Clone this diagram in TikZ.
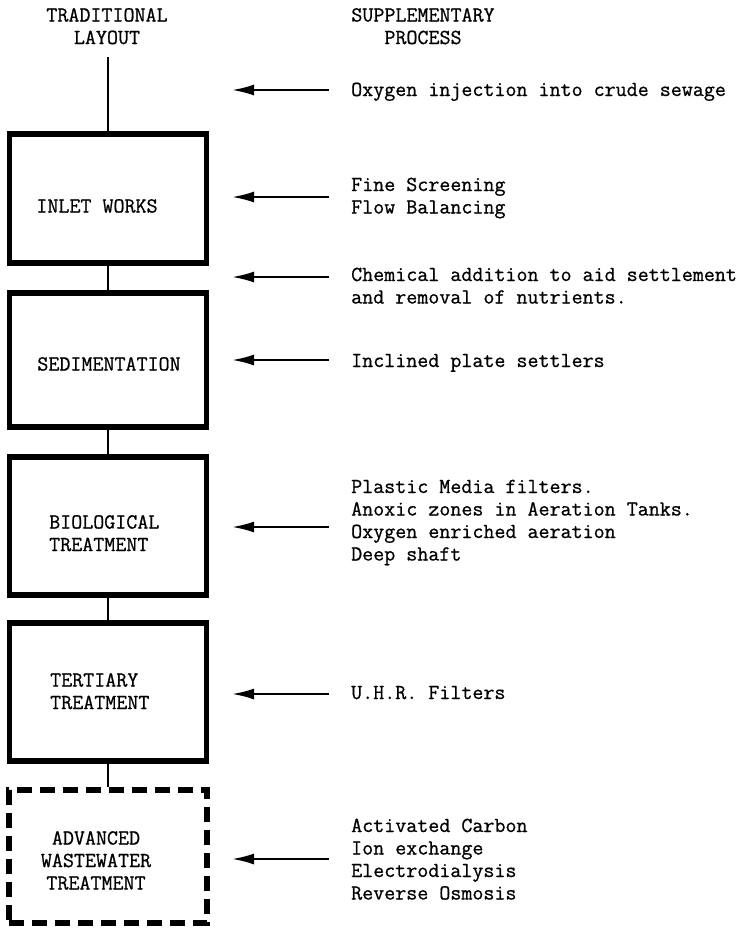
\documentclass[tikz,border=0pt]{standalone}
\usepackage{fontspec}
\newfontfamily\typew[FakeBold=0.8]{Latin Modern Mono}
\usetikzlibrary{arrows.meta}
\begin{document}
\begin{tikzpicture}[x=1pt,y=-1pt,
  txt/.style={font=\typew\fontsize{21.4}{22.5}\selectfont, inner sep=0pt, align=left},
  ctxt/.style={txt, align=center},
  stage/.style={draw, line width=5.5pt, minimum width=197pt, inner sep=0pt},
  optstage/.style={stage, dash pattern=on 15pt off 8pt},
  link/.style={line width=2pt},
  feed/.style={line width=2.2pt, -{Latex[length=22pt,width=11pt]}},
]
\useasboundingbox (0,0) rectangle (753,930);

% headers (base = last line baseline)
\node[ctxt, anchor=base] (hleft) at (107,44) {TRADITIONAL\\LAYOUT};
\node[ctxt, anchor=base] (hright) at (423,44) {SUPPLEMENTARY\\PROCESS};

% stages
\node[stage, minimum height=129pt] (inlet) at (108,198.5) {};
\node[stage, minimum height=134pt] (sed) at (108,360) {};
\node[stage, minimum height=138pt] (bio) at (108,526) {};
\node[stage, minimum height=138pt] (tert) at (108,692) {};
\node[optstage, minimum height=133pt, minimum width=198pt] (adv) at (108,856.5) {};

% stage labels
\node[txt, anchor=base] (inletlbl) at (97,212.5) {INLET WORKS};
\node[txt, anchor=base] (sedlbl) at (109,370.5) {SEDIMENTATION};
\node[txt, anchor=base west] (biolbl) at (49,551) {BIOLOGICAL\\TREATMENT};
\node[txt, anchor=base west] (tertlbl) at (50,709) {TERTIARY\\TREATMENT};
\node[ctxt, anchor=base] (advlbl) at (96,889.5) {ADVANCED\\WASTEWATER\\TREATMENT};

% flow connectors
\coordinate (src) at (108,57);
\draw[link] (src) -- (inlet.north);
\draw[link] (inlet.south) -- (sed.north);
\draw[link] (sed.south) -- (bio.north);
\draw[link] (bio.south) -- (tert.north);
\draw[link] (tert.south) -- (adv.north);

% supplementary processes
\node[txt, anchor=base west] (p1) at (351,96) {Oxygen injection into crude sewage};
\node[txt, anchor=base west] (p2) at (351,213.5) {Fine Screening\\Flow Balancing};
\node[txt, anchor=base west] (p3) at (351,303.5) {Chemical addition to aid settlement\\and removal of nutrients.};
\node[txt, anchor=base west] (p4) at (351,367) {Inclined plate settlers};
\node[txt, anchor=base west] (p5) at (351,560.5) {Plastic Media filters.\\Anoxic zones in Aeration Tanks.\\Oxygen enriched aeration\\Deep shaft};
\node[txt, anchor=base west] (p6) at (351,699) {U.H.R. Filters};
\node[txt, anchor=base west] (p7) at (351,899.5) {Activated Carbon\\Ion exchange\\Electrodialysis\\Reverse Osmosis};

% arrows
\foreach \n/\y in {1/90,2/197,3/277,4/360,5/527,6/694,7/859}{
  \coordinate (t\n) at (329,\y);
  \coordinate (h\n) at (232,\y);
}
\foreach \n in {1,...,7}{
  \draw[feed] (t\n) -- (h\n);
}
\end{tikzpicture}
\end{document}
